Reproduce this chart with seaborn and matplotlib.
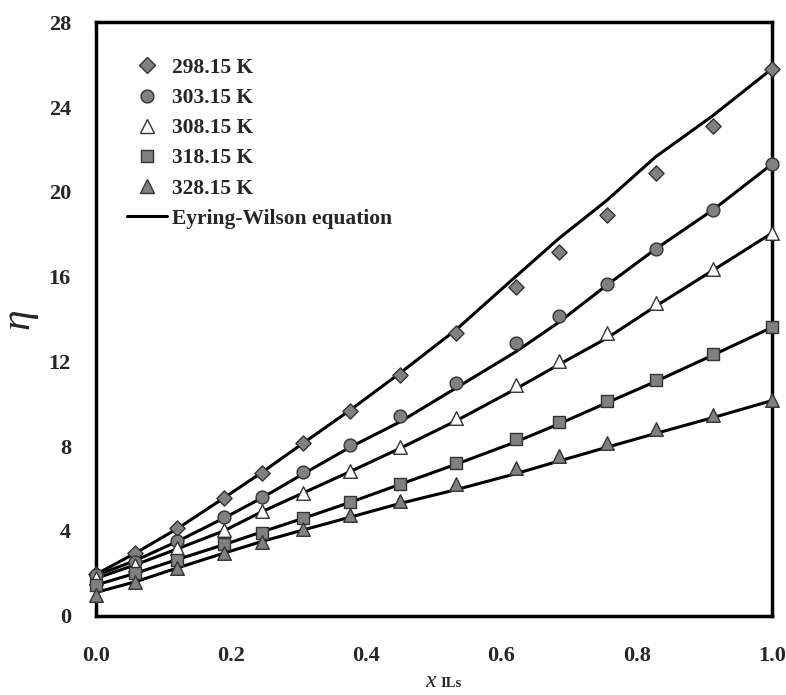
import numpy as np
import pandas as pd
import matplotlib
matplotlib.use("Agg")
import matplotlib.pyplot as plt
from matplotlib.lines import Line2D
from matplotlib.ticker import MultipleLocator
import seaborn as sns

# ---- data ----
x_ils = [0.0, 0.058, 0.12, 0.189, 0.245, 0.307, 0.376, 0.45, 0.533, 0.621,
         0.685, 0.756, 0.828, 0.913, 1.0]
temps = ["298.15 K", "303.15 K", "308.15 K", "318.15 K", "328.15 K"]

eta_29815 = [1.95, 2.97, 4.12, 5.54, 6.75, 8.13, 9.66, 11.35, 13.32, 15.49, 17.14, 18.9, 20.87, 23.1, 25.8]
eta_30315 = [1.9, 2.55, 3.52, 4.64, 5.61, 6.76, 8.05, 9.42, 11.0, 12.85, 14.15, 15.63, 17.3, 19.14, 21.3]
eta_30815 = [1.76, 2.39, 3.18, 4.04, 4.94, 5.8, 6.84, 7.97, 9.34, 10.88, 12.03, 13.32, 14.76, 16.35, 18.05]
eta_31815 = [1.45, 2.0, 2.63, 3.37, 3.89, 4.6, 5.38, 6.21, 7.22, 8.32, 9.12, 10.14, 11.12, 12.33, 13.6]
eta_32815 = [0.98, 1.57, 2.24, 2.97, 3.49, 4.1, 4.75, 5.42, 6.2, 6.98, 7.53, 8.13, 8.79, 9.47, 10.17]

fit_29815 = [1.95, 2.95, 4.1, 5.55, 6.75, 8.15, 9.7, 11.45, 13.5, 16.0, 17.8, 19.6, 21.65, 23.6, 25.8]
fit_30315 = [1.9, 2.6, 3.5, 4.6, 5.55, 6.7, 7.95, 9.15, 10.75, 12.45, 13.85, 15.6, 17.3, 19.15, 21.3]
fit_30815 = [1.76, 2.4, 3.15, 4.0, 4.9, 5.8, 6.8, 7.9, 9.2, 10.7, 11.85, 13.1, 14.6, 16.3, 18.05]
fit_31815 = [1.45, 2.0, 2.65, 3.35, 3.95, 4.6, 5.35, 6.2, 7.15, 8.2, 9.05, 10.05, 11.05, 12.3, 13.6]
fit_32815 = [1.1, 1.6, 2.25, 2.95, 3.5, 4.05, 4.65, 5.3, 5.95, 6.7, 7.3, 7.95, 8.6, 9.35, 10.15]

exp_series = [eta_29815, eta_30315, eta_30815, eta_31815, eta_32815]
fit_series = [fit_29815, fit_30315, fit_30815, fit_31815, fit_32815]

x_ticks = [0.0, 0.2, 0.4, 0.6, 0.8, 1.0]
x_ticklabels = ["0.0", "0.2", "0.4", "0.6", "0.8", "1.0"]
y_ticks = [0, 4, 8, 12, 16, 20, 24, 28]
fit_label = "Eyring-Wilson equation"

exp_df = pd.concat([pd.DataFrame({"x": x_ils, "eta": v, "T": t})
                    for t, v in zip(temps, exp_series)], ignore_index=True)
fit_df = pd.concat([pd.DataFrame({"x": x_ils, "eta": v, "T": t})
                    for t, v in zip(temps, fit_series)], ignore_index=True)

# ---- style ----
sns.set_style("white")
plt.rcParams["font.family"] = ["Liberation Serif", "DejaVu Serif"]
plt.rcParams["font.weight"] = "bold"

markers = {"298.15 K": "D", "303.15 K": "o", "308.15 K": "^", "318.15 K": "s", "328.15 K": "^"}
msizes = {"298.15 K": 60, "303.15 K": 85, "308.15 K": 95, "318.15 K": 80, "328.15 K": 95}
faces = {"298.15 K": "#808080", "303.15 K": "#808080", "308.15 K": "white",
         "318.15 K": "#808080", "328.15 K": "#808080"}
edge = "#333333"

fig = plt.figure(figsize=(7.86, 6.95), dpi=100)
ax = fig.add_axes([0.122, 0.114, 0.860, 0.854])

sns.lineplot(data=fit_df, x="x", y="eta", units="T", estimator=None,
             color="black", linewidth=2.2, ax=ax, legend=False, zorder=2)

for t in temps:
    sub = exp_df[exp_df["T"] == t]
    sns.scatterplot(data=sub, x="x", y="eta", marker=markers[t], s=msizes[t],
                    color=faces[t], edgecolor=edge, linewidth=1.0,
                    ax=ax, legend=False, zorder=3, clip_on=False)

ax.set_xlim(0, 1.0)
ax.set_ylim(0, 28)
ax.set_xticks(x_ticks)
ax.set_xticklabels(x_ticklabels)
ax.set_yticks(y_ticks)
ax.xaxis.set_minor_locator(MultipleLocator(0.1))
ax.yaxis.set_minor_locator(MultipleLocator(2))
ax.tick_params(axis="both", which="both", direction="in", length=7, width=2,
               top=False, right=False, labelsize=16, color="black")
ax.tick_params(axis="x", which="major", pad=22)
ax.tick_params(axis="y", which="major", pad=18)
for lab in ax.get_xticklabels() + ax.get_yticklabels():
    lab.set_fontweight("bold")
for sp in ax.spines.values():
    sp.set_linewidth(2.5)
    sp.set_color("black")

ax.set_xlabel("")
ax.set_ylabel("η", fontsize=30, fontstyle="italic", fontweight="normal", labelpad=8)

# x-axis label: italic x with bold subscript "ILs"
fig.text(425 / 786, 8 / 695, "x", fontsize=17, fontstyle="italic", fontweight="normal",
         ha="left", va="baseline")
fig.text(440 / 786, 8 / 695, "ILs", fontsize=10.5, fontweight="bold",
         ha="left", va="baseline")

# legend
handles = []
for t in temps:
    handles.append(Line2D([], [], linestyle="none", marker=markers[t],
                          markersize=np.sqrt(msizes[t]),
                          markerfacecolor=faces[t], markeredgecolor=edge,
                          markeredgewidth=1.0, label=t))
handles.append(Line2D([], [], color="black", linewidth=2.2, label=fit_label))
leg = ax.legend(handles=handles, loc="upper left", bbox_to_anchor=(0.046, 0.94),
                frameon=False, prop={"family": "Liberation Serif", "weight": "bold", "size": 15.5},
                handlelength=1.86, handletextpad=0.25, labelspacing=0.47,
                borderaxespad=0.0, borderpad=0.0)

fig.savefig("out.png", dpi=100)
